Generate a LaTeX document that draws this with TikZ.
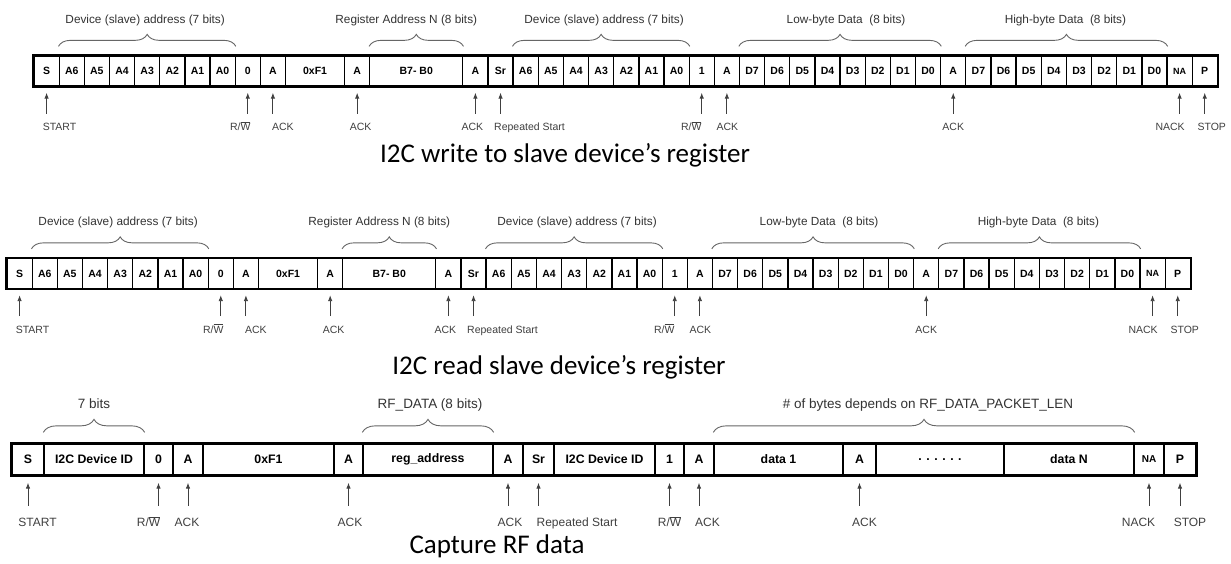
\documentclass[tikz,border=0pt]{standalone}
\usepackage{fontspec}
\setmainfont{Liberation Sans}
\newfontfamily\capfont{Carlito}
\usetikzlibrary{arrows.meta,decorations.pathreplacing}
\newcommand{\rwbar}{R/$\overline{\hbox{W}}$}
\tikzset{
  bitcell/.style={draw, line width=1.3pt, inner sep=0pt, minimum height=30pt,
    font=\fontsize{10.5}{12}\selectfont\bfseries},
  bigcell/.style={bitcell, minimum height=31pt, font=\fontsize{12.3}{14}\selectfont\bfseries},
  barframe/.style={line width=2pt},
  bracket/.style={decorate, decoration={brace, amplitude=12pt}, draw=black!60, line width=0.9pt},
  braceword/.style={anchor=base, text=black!80, font=\fontsize{11.8}{14}\selectfont},
  bigword/.style={braceword, font=\fontsize{13.5}{16}\selectfont},
  ptr/.style={-{Latex[length=6pt,width=4.5pt]}, draw=black!75, line width=0.9pt, shorten >=6pt},
  tag/.style={anchor=base, text=black!75, font=\fontsize{10.5}{12}\selectfont},
  bigtag/.style={tag, font=\fontsize{12}{14}\selectfont},
  titleline/.style={anchor=base, font=\capfont\fontsize{27}{32}\selectfont}
}
\begin{document}
\begin{tikzpicture}[x=1pt, y=-1pt]
  \path[use as bounding box, fill=white] (0,0) rectangle (1231,564);

  % write and read sequences (same bit layout)
  \foreach \row/\dx/\yc/\capt/\cx/\cy in {w/27/71/{I2C write to slave device’s register}/565/163,
                                         r/0/273.5/{I2C read slave device’s register}/559/374} {
    % bit cells
    \foreach \bit/\w [count=\i, remember=\xr as \xl (initially 7), evaluate=\w as \xr using \xl+\w*25.15] in
      {S/1, A6/1, A5/1, A4/1, A3/1, A2/1, A1/1, A0/1, 0/1, A/1, 0xF1/2.35, A/1, {B7- B0}/3.7, A/1, Sr/1,
       A6/1, A5/1, A4/1, A3/1, A2/1, A1/1, A0/1, 1/1, A/1,
       D7/1, D6/1, D5/1, D4/1, D3/1, D2/1, D1/1, D0/1, A/1,
       D7/1, D6/1, D5/1, D4/1, D3/1, D2/1, D1/1, D0/1, {\fontsize{9}{9}\selectfont NA}/1, P/1} {
      \node[bitcell, minimum width={(\xr-\xl)*1pt}] (\row\i) at ({(\xl+\xr)/2+\dx},\yc) {\bit};
    }
    \draw[barframe] (\row1.north west) rectangle (\row43.south east);

    % field braces
    \foreach \p/\q/\txt/\sh [count=\k] in {2/8/{Device (slave) address (7 bits)}/-2,
        13/13/{Register Address N (8 bits)}/-10, 16/22/{Device (slave) address (7 bits)}/3,
        25/32/{Low-byte Data~~(8 bits)}/6, 34/41/{High-byte Data~~(8 bits)}/-1} {
      \draw[bracket] ([yshift=9pt]\row\p.north west) -- ([yshift=9pt]\row\q.north east)
        node[braceword, midway, yshift=23pt, xshift=\sh pt] (\row-brace\k) {\txt};
    }

    % pointers
    \foreach \cellno/\lbl/\sh in {1/START/13, 9/\rwbar/-7.5, 10/ACK/10, 12/ACK/3.5, 14/ACK/-3,
        15/Repeated Start/29, 23/\rwbar/-10.5, 24/ACK/0.5, 33/ACK/0, 42/NACK/-9.5, 43/STOP/7} {
      \coordinate (\row-tail\cellno) at ([yshift=-27pt]\row\cellno.south);
      \draw[ptr] (\row-tail\cellno) -- (\row\cellno.south);
      \node[tag] (\row-tag\cellno) at ([xshift=\sh pt, yshift=-17pt]\row-tail\cellno) {\lbl};
    }

    \node[titleline] (\row-title) at (\cx,\cy) {\capt};
  }

  % capture RF data
  \foreach \bit/\w [count=\i, remember=\xr as \xl (initially 12), evaluate=\w as \xr using \xl+\w] in
    {S/32, {I2C Device ID}/100, 0/29, A/30, 0xF1/131, A/29, reg\_address/130, A/30, Sr/31,
     {I2C Device ID}/101, 1/29, A/30, {data 1}/129, A/33, {. . . . . .}/128, {data N}/130,
     {\fontsize{10}{10}\selectfont NA}/30, P/32} {
    \node[bigcell, minimum width={(\xr-\xl)*1pt}] (c\i) at ({(\xl+\xr)/2},459.5) {\bit};
  }
  \draw[barframe] (c1.north west) rectangle (c18.south east);

  \foreach \p/\q/\txt/\sh [count=\k] in {2/2/{7 bits}/0, 7/7/{RF\_DATA (8 bits)}/2,
      13/16/{\# of bytes depends on RF\_DATA\_PACKET\_LEN}/4} {
    \draw[bracket, decoration={amplitude=13pt}] ([yshift=11pt]c\p.north west) -- ([yshift=11pt]c\q.north east)
      node[bigword, midway, yshift=24pt, xshift=\sh pt] (c-brace\k) {\txt};
  }

  \foreach \cellno/\lbl/\sh in {1/START/9.5, 3/\rwbar/-10, 4/ACK/-1, 6/ACK/1.5, 8/ACK/2,
      9/Repeated Start/38.5, 11/\rwbar/0, 12/ACK/8.5, 14/ACK/5, 17/NACK/-10.5, 18/STOP/10} {
    \coordinate (c-tail\cellno) at ([yshift=-30pt]c\cellno.south);
    \draw[ptr, shorten >=7pt] (c-tail\cellno) -- (c\cellno.south);
    \node[bigtag] (c-tag\cellno) at ([xshift=\sh pt, yshift=-21pt]c-tail\cellno) {\lbl};
  }

  \node[titleline] (c-title) at (497,553) {Capture RF data};
\end{tikzpicture}
\end{document}
